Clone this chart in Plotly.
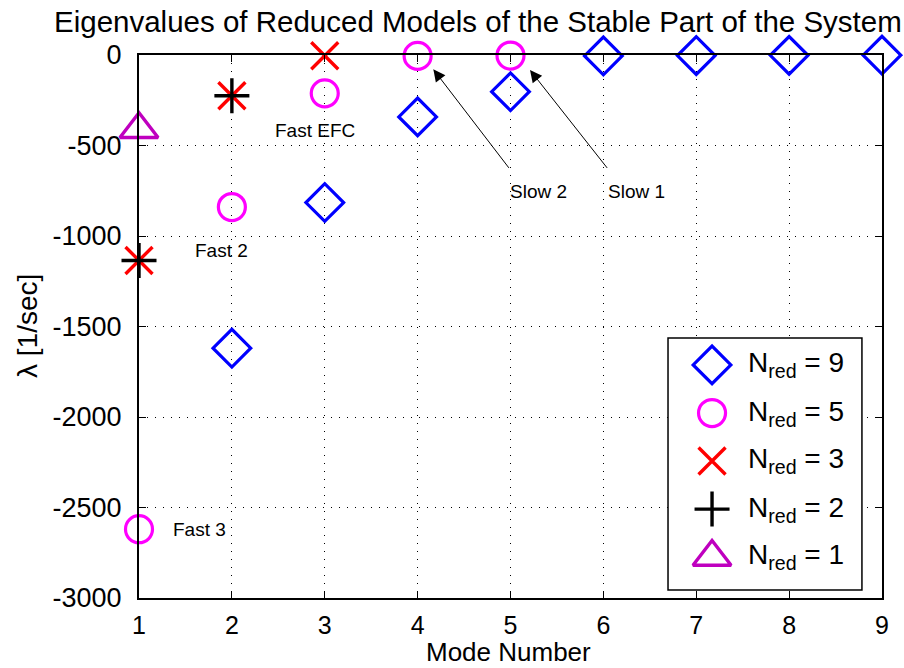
import plotly.graph_objects as go

# ---------------- data ----------------
modes_n9 = [2, 3, 4, 5, 6, 7, 8, 9]
lam_n9 = [-1620, -815, -342, -203, -5, -3, -2, -1]

modes_n5 = [1, 2, 3, 4, 5]
lam_n5 = [-2620, -840, -212, -5, -3]

modes_n3 = [1, 2, 3]
lam_n3 = [-1135, -225, -4]

modes_n2 = [1, 2]
lam_n2 = [-1135, -225]

modes_n1 = [1]
lam_n1 = [-410]

legend_names = ["N<sub>red</sub> = 9", "N<sub>red</sub> = 5", "N<sub>red</sub> = 3",
                "N<sub>red</sub> = 2", "N<sub>red</sub> = 1"]

x_ticks = [1, 2, 3, 4, 5, 6, 7, 8, 9]
y_ticks = [0, -500, -1000, -1500, -2000, -2500, -3000]

# ---------------- styles ----------------
FONT = "Liberation Sans, Arial, Helvetica, sans-serif"
styles = [
    dict(symbol="diamond-open", size=29, color="#0000FF", line=dict(width=3.2, color="#0000FF")),
    dict(symbol="circle-open", size=27, color="#FF00FF", line=dict(width=3.2, color="#FF00FF")),
    dict(symbol="x-thin-open", size=27, color="#FF0000", line=dict(width=3.4, color="#FF0000")),
    dict(symbol="cross-thin-open", size=25, color="#000000", line=dict(width=3.4, color="#000000")),
    dict(symbol="triangle-up-open", size=33, color="#BF00BF", line=dict(width=3.4, color="#BF00BF")),
]
series = [(modes_n9, lam_n9), (modes_n5, lam_n5), (modes_n3, lam_n3),
          (modes_n2, lam_n2), (modes_n1, lam_n1)]

fig = go.Figure()
for (xs, ys), st, nm in zip(series, styles, legend_names):
    fig.add_trace(go.Scatter(x=xs, y=ys, mode="markers", marker=st, name=nm,
                             showlegend=False, cliponaxis=False,
                             xaxis="x", yaxis="y"))

# custom legend (inset axes so markers keep their true size)
leg_rows = [0.893, 0.702, 0.512, 0.321, 0.131]
for st, nm, yy in zip(styles, legend_names, leg_rows):
    fig.add_trace(go.Scatter(x=[0.227], y=[yy], mode="markers", marker=st,
                             showlegend=False, cliponaxis=False,
                             xaxis="x2", yaxis="y2", hoverinfo="skip"))

annotations = []
for nm, yy in zip(legend_names, leg_rows):
    annotations.append(dict(x=0.40, y=yy, xref="x2", yref="y2", text=nm,
                            showarrow=False, xanchor="left", yanchor="middle",
                            font=dict(family=FONT, size=28, color="black")))

# text labels
for txt, tx, ty in [("Fast EFC", 2.892, -416), ("Fast 2", 1.890, -1081),
                    ("Fast 3", 1.654, -2624), ("Slow 2", 5.300, -755),
                    ("Slow 1", 6.353, -755)]:
    annotations.append(dict(x=tx, y=ty, xref="x", yref="y", text=txt, showarrow=False,
                            xanchor="center", yanchor="middle",
                            font=dict(family=FONT, size=19, color="black")))

# arrows
for hx, hy, tx, ty in [(4.169, -79, 4.995, -632), (5.210, -83, 6.053, -632)]:
    annotations.append(dict(x=hx, y=hy, ax=tx, ay=ty, xref="x", yref="y",
                            axref="x", ayref="y", text="", showarrow=True,
                            arrowhead=2, arrowsize=2.4, arrowwidth=1,
                            arrowcolor="black"))

# titles
annotations.append(dict(x=0.456, y=1.061, xref="paper", yref="paper",
                        text="Eigenvalues of Reduced Models of the Stable Part of the System",
                        showarrow=False, xanchor="center", yanchor="middle",
                        font=dict(family=FONT, size=29.5, color="black")))
annotations.append(dict(x=0.497, y=-0.099, xref="paper", yref="paper",
                        text="Mode Number", showarrow=False, xanchor="center",
                        yanchor="middle", font=dict(family=FONT, size=26, color="black")))
annotations.append(dict(x=-0.1494, y=0.501, xref="paper", yref="paper",
                        text="λ [1/sec]", showarrow=False, textangle=-90,
                        xanchor="center", yanchor="middle",
                        font=dict(family=FONT, size=28, color="black")))

fig.update_layout(
    width=904, height=668,
    margin=dict(l=139, r=22, t=55, b=70),
    paper_bgcolor="white", plot_bgcolor="white",
    font=dict(family=FONT, size=24, color="black"),
    showlegend=False,
    xaxis=dict(range=[1, 9], tickvals=x_ticks, ticktext=[str(v) for v in x_ticks],
               showgrid=True, gridcolor="black", gridwidth=1, griddash="1px,7px",
               showline=True, linecolor="black", linewidth=2, mirror="allticks",
               ticks="inside", ticklen=7, tickwidth=1, tickcolor="black",
               zeroline=False, ticklabelstandoff=4,
               tickfont=dict(family=FONT, size=25), domain=[0, 1], anchor="y"),
    yaxis=dict(range=[-3000, 0], tickvals=y_ticks, ticktext=[str(v) for v in y_ticks],
               showgrid=True, gridcolor="black", gridwidth=1, griddash="1px,7px",
               showline=True, linecolor="black", linewidth=2, mirror="allticks",
               ticks="inside", ticklen=7, tickwidth=1, tickcolor="black",
               zeroline=False, ticklabelstandoff=10,
               tickfont=dict(family=FONT, size=27), domain=[0, 1], anchor="x"),
    xaxis2=dict(domain=[0.712, 0.973], range=[0, 1], visible=False, anchor="y2",
                fixedrange=True),
    yaxis2=dict(domain=[0.0147, 0.479], range=[0, 1], visible=False, anchor="x2",
                fixedrange=True),
    shapes=[dict(type="rect", xref="x2 domain", yref="y2 domain", x0=0, x1=1, y0=0, y1=1,
                 line=dict(color="black", width=1.5), fillcolor="rgba(0,0,0,0)",
                 layer="above")],
    annotations=annotations,
)

fig.write_html("out.html")
